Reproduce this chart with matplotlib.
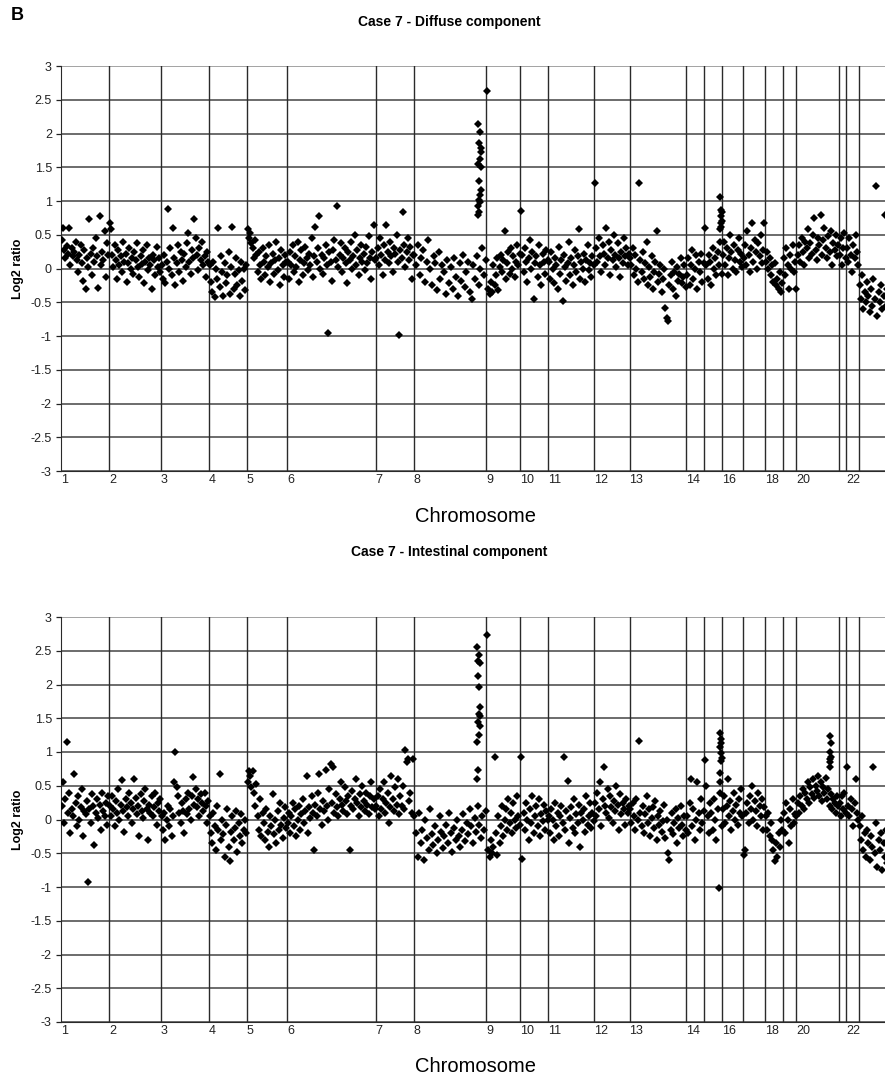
import numpy as np
import matplotlib
matplotlib.use('Agg')
import matplotlib.pyplot as plt
import matplotlib.transforms as mtransforms

plt.rcParams['font.family'] = ['Liberation Sans', 'DejaVu Sans']

# chromosome order and number of clones on the array for each one
chromosomes = ['1', '2', '3', '4', '5', '6', '7', '8', '9', '10', '11', '12',
               '13', '14', '15', '16', '17', '18', '19', '20', '21', '22', 'X']
n_clones = [120, 130, 120, 95, 100, 222, 95, 182, 85, 70, 115, 88,
            142, 45, 45, 52, 55, 45, 32, 108, 18, 32, 85]
# Excel only printed every other label after chromosome 14
tick_labels = ['1', '2', '3', '4', '5', '6', '7', '8', '9', '10', '11', '12',
               '13', '14', '', '16', '', '18', '', '20', '', '22', '']
y_ticks = [-3, -2.5, -2, -1.5, -1, -0.5, 0, 0.5, 1, 1.5, 2, 2.5, 3]

# log2 ratios, one row per chromosome
diffuse = [
    [.42, .60, .28, .15, .33, .22, .60, .05, .30, .18, .25, .40, .12, -.05, .20, .35, .08, -.18, .27, -.30,
     .15, .02, .73, .22, -.10, .30, .10, .45, .18, -.29, .78, .05, .24, .12, .55, -.12, .38, .20],
    [.67, .58, .20, .02, .35, .12, -.15, .28, .05, .18, -.05, .40, .10, .22, -.20, .08, .30, .00, .15, -.08,
     .25, .12, .38, .02, -.12, .18, .06, .28, -.22, .10, .35, -.02, .15, .05, -.30, .20, .12, -.10, .32, .02, .15, -.05],
    [.05, -.15, .20, -.22, .10, .88, .00, .30, -.10, .60, .15, -.25, .08, .35, -.05, .25, .12, -.18, .22, .02,
     .38, .53, .10, -.08, .28, .15, .73, .45, .20, -.02, .30, .12, .40, .05, .18, -.12, .25, .10],
    [.05, -.20, -.35, .10, -.42, .00, -.15, .60, -.28, .18, -.05, -.40, .08, -.22, -.10, .25, -.38, .02, .62, -.30,
     -.08, .15, -.25, -.02, -.40, .10, -.18, .00, -.32, .05],
    [.58, .45, .52, .38, .30, .15, .42, .20, -.05, .25, .05, -.15, .30, .10, -.10, .18, .02, .35, -.20, .08,
     .22, -.08, .12, .40, -.02, .15, -.25, .28, .05, -.12, .20, .10],
    [.10, -.15, .25, .05, .35, -.05, .18, .02, .40, -.20, .12, .28, -.10, .08, .32, .15, -.02, .22, .05, .45,
     -.12, .18, .62, .10, .30, .78, .00, .20, -.08, .15, .35, .05, -.95, .25, .10, -.18, .28, .42, .12, .92,
     .02, .20, .38, -.05, .15, .30, .08, -.22, .25, .12, .40, .00, .18, .50, .05, .28, -.10, .15, .35, .10,
     .22, -.02, .32, .08, .48, .15, -.15, .25, .65, .12],
    [.15, .30, .05, .45, .20, -.10, .35, .12, .65, .25, .08, .40, .18, -.05, .30, .22, .50, .10, -.98, .28,
     .15, .83, .35, .02, .25, .45, .12, .32, -.15, .20],
    [.20, .05, .35, -.10, .15, .28, -.20, .10, .42, .00, -.25, .18, .08, -.32, .25, -.15, .05, -.05, -.38, .12,
     -.22, .02, -.30, .15, -.12, -.40, .08, -.18, .20, -.28, -.05, .10, -.35, -.45, .05, -.15, .18, -.25, .00, .30,
     -.10, .12],
    [2.63, -.30, -.38, -.20, -.35, .05, -.25, -.10, .15, -.32, .02, .20, -.05, .12, .55, -.15, .08, .25, -.08, .30,
     .00, .18, -.12, .10, .35, .05, .22],
    [.85, .20, -.05, .30, .10, -.20, .15, .42, .00, .25, -.45, .08, .18, -.12, .35, .05, -.25, .22, .10, -.08,
     .28, .12],
    [.10, -.15, .25, .00, -.22, .15, .05, -.30, .32, -.08, .12, -.48, .20, .02, -.18, .08, .40, -.10, .15, -.25,
     .05, .28, -.05, .18, .58, -.15, .10, .00, .22, -.20, .12, .35, -.02, .08, -.12, .18, .05],
    [1.26, .30, .10, .45, .18, -.05, .35, .22, .05, .60, .15, .40, -.10, .28, .12, .50, .20, .02, .38, .15,
     -.12, .25, .08, .45, .18, .30, .05, .22],
    [.15, .05, .30, -.10, .20, .00, -.20, 1.27, .12, -.05, .25, -.15, .08, .40, -.25, .02, -.12, .18, -.30, -.05,
     .10, .55, -.20, -.08, .05, -.35, -.15, .00, -.58, -.73, -.78, -.25, -.10, .10, -.30, -.05, -.40, .02, -.18, -.08,
     .15, -.22, -.12, .05, -.28],
    [-.10, .15, -.25, .05, .28, -.15, .00, .20, -.30, .10, -.05, .22, -.20, .08],
    [.60, .05, -.15, .20, .10, -.25, .30, .00, .15, -.10, .25, .05, .40, -.08],
    [.20, .40, .05, .30, -.10, .15, .50, .25, .00, .35, .12, -.05, .28, .45, .10, .22, .02],
    [.15, .35, .05, .55, .20, -.05, .30, .67, .10, .42, .25, .00, .38, .18, .50, .08, .28, .68],
    [.10, .25, .00, .15, -.10, .05, -.20, .08, -.25, -.15, -.30, -.05, -.35, -.22],
    [.15, -.10, .30, .05, -.30, .20, .00, .35, -.05, .10],
    [-.30, .20, .35, .10, .45, .25, .05, .40, .30, .58, .15, .38, .22, .50, .75, .28, .12, .45, .35, .80,
     .20, .42, .60, .30, .15, .48, .25, .55, .05, .38, .28, .50, .18, .35],
    [.20, .45, .05, .30, .52, .15],
    [.30, .10, .45, .20, -.05, .35, .15, .50, .25, .05],
    [-.25, -.45, -.10, -.60, -.35, -.50, -.20, -.40, -.65, -.30, -.55, -.15, -.45, 1.22, -.70, -.35, -.50, -.25, -.60, -.40,
     .80, -.55, -.30, -.75, -.45, -.95, -.60],
]

# log2 ratios
intestinal = [
    [.20, .55, -.05, .30, 1.15, .10, .40, -.20, .15, .05, .67, .25, -.10, .35, .00, .18, .45, -.25, .12, .08,
     .28, -.92, .15, -.05, .38, .20, -.38, .10, .30, .02, .22, -.15, .40, .12, .05, .25, -.08, .35],
    [.20, .05, .35, .15, -.10, .28, .10, .45, .00, .22, .58, .12, -.18, .30, .18, .05, .40, .25, -.05, .15,
     .60, .32, .08, .20, -.25, .38, .12, .02, .28, .45, .15, -.30, .22, .10, .35, .05, .18, .40, -.08, .25, .12, .30],
    [.05, -.15, .10, -.30, .00, .20, -.10, .15, -.25, .05, .55, 1.00, .48, .35, .10, -.05, .25, .12, -.20, .30,
     .08, .40, .15, .00, .35, .63, .22, .45, .18, .30, .05, .38, .25, .12, .40, .20, -.05, .28],
    [.05, -.20, -.35, .10, -.10, -.45, .20, -.15, .67, -.30, .00, -.22, -.55, -.08, .15, -.40, -.62, -.18, .05, -.30,
     -.12, .12, -.48, -.05, -.25, .08, -.35, -.15, .00, -.20],
    [.55, .72, .65, .48, .72, .40, .20, .52, .05, -.15, .30, -.25, .10, -.05, -.30, .15, -.18, -.40, .05, -.10,
     .38, -.22, .00, -.35, .12, -.15, .25, -.08, -.28, .02, .18, -.12],
    [-.05, .10, -.20, .05, .25, -.10, .15, -.25, .00, .20, -.15, .08, .30, -.05, .12, .65, -.20, .18, .02, .35,
     .10, -.45, .22, .05, .40, .68, .15, -.08, .28, .12, .73, .20, .00, .45, .82, .25, .78, .10, .38, .18,
     .05, .30, .55, .22, .12, .48, .28, .08, .35, -.45, .20, .42, .15, .30, .60, .25, .05, .38, .18, .50,
     .28, .12, .40, .22, .08, .35, .55, .18, .30, .15],
    [.20, .35, .05, .45, .15, .30, .55, .10, .25, .40, -.05, .18, .65, .30, .12, .48, .22, .60, .08, .35,
     .20, .50, .15, 1.03, .85, .90, .28, .40, .10, .90],
    [.05, -.20, -.55, .10, -.35, -.15, -.60, .00, -.28, -.45, .15, -.22, -.38, -.10, -.50, -.30, .05, -.18, -.42, -.25,
     -.08, -.35, .10, -.20, -.48, -.12, -.30, .00, -.25, -.40, -.15, .08, -.32, -.05, -.22, .15, -.10, -.35, .02, -.18,
     .20, -.08, -.28, .05, -.15, .12],
    [2.74, -.45, -.55, -.30, -.50, -.40, .93, -.20, -.52, .05, -.35, -.10, .20, -.25, .00, .15, -.15, .30, -.05, .10,
     -.20, .25, .00, -.12, .35, .05, -.08],
    [.93, -.58, .10, -.15, .25, .00, -.30, .15, -.05, .35, -.20, .05, .20, -.10, .30, -.25, .08, -.02, .22, -.15,
     .12, .00],
    [.05, -.20, .15, .00, -.30, .25, -.10, .10, -.25, .05, .20, -.05, .93, -.15, .12, .57, -.35, .02, .18, -.12,
     .30, -.20, .08, -.05, .22, -.40, .10, .00, .15, -.18, .35, -.08, .05, .25, -.12, .10, -.02],
    [.25, .05, .40, .15, .55, -.10, .30, .78, .20, .10, .45, .02, .35, .18, -.05, .28, .12, .50, .22, -.15,
     .38, .08, .25, .15, -.08, .30, .10, .20],
    [.15, -.05, .25, .05, -.15, .30, .00, 1.17, .10, -.10, .20, -.20, .08, .35, -.05, .15, -.25, .02, .18, -.12,
     .28, -.30, .05, -.08, .12, -.18, -.02, .22, -.28, .00, -.50, -.60, -.15, .10, -.22, -.05, .15, -.35, .02, -.12,
     .20, -.08, -.25, .05, -.15],
    [.05, -.20, .25, .60, -.10, .15, -.30, .00, .55, .10, -.15, .30, -.05, .12],
    [.88, .50, .05, -.20, .25, .10, -.15, .30, .00, -.30, .15, -1.02, .40, -.10],
    [.15, .35, -.05, .20, .60, .05, .28, -.15, .12, .40, .00, .22, -.08, .30, .10, .45, .05],
    [-.52, -.45, .10, .25, -.05, .35, .15, .50, .00, .28, .12, -.10, .40, .20, .05, .30, -.15, .18],
    [.05, -.15, .10, -.25, -.05, -.30, -.45, -.62, -.35, -.55, -.20, -.40, .00, -.15],
    [.10, -.20, .25, .00, -.35, .15, -.10, .30, -.05, .08],
    [.05, .25, .10, .35, .20, .45, .15, .40, .30, .55, .25, .48, .38, .60, .32, .50, .42, .65, .35, .55,
     .28, .48, .40, .62, .30, .45, .20, .38, .15, .30, .25, .10, .35, .20],
    [.25, .05, .35, .15, .40, .10],
    [.78, .20, .05, .30, .15, -.10, .25, .60, .10, .00],
    [-.10, -.30, .05, -.45, -.20, -.55, -.15, -.35, -.60, -.25, -.40, .78, -.50, -.05, -.70, -.30, -.45, -.20, -.75, -.35,
     -.55, -.15, -.65, -.40, -.90, -.50, -.80],
]

# tightly packed clones at amplified loci: (chromosome, fraction along it, log2 ratios)
focal_diffuse = [
    ('8', 0.88, [.79, 2.14, .92, 1.55, 1.02, 1.86, .84, 1.30, 2.02, 1.09, 1.62, .98, 1.78, 1.17, 1.51, 1.73]),
    ('15', 0.88, [.58, 1.06, .68, .86, .61, .78, .71, .83]),
]
focal_intestinal = [
    ('8', 0.87, [.60, 2.56, 1.15, 2.13, .73, 1.44, 2.35, 1.25, 1.97, 1.56, 2.44, 1.38, 1.66, 2.32, 1.53]),
    ('15', 0.86, [.56, 1.28, .69, 1.08, .86, 1.20, .98, 1.13, .91]),
    ('20', 0.78, [.78, 1.23, .85, 1.00, .90, 1.14, .93]),
]

W, H = 885, 1077
fig = plt.figure(figsize=(W / 100, H / 100), dpi=100)

starts = np.concatenate([[0], np.cumsum(n_clones)[:-1]])
total = sum(n_clones)


def draw_panel(top, values, focal):
    # axes placed in pixel units, right edge runs past the figure like the original
    left, right, bottom = 61, 893, top + 405
    ax = fig.add_axes([left / W, 1 - bottom / H, (right - left) / W, (bottom - top) / H])

    for k, vals in enumerate(values):
        n = len(vals)
        x = starts[k] + (np.arange(n) + 0.5) * n_clones[k] / n
        ax.plot(x, vals, 'D', ms=3.7, mew=0, color='black', zorder=3)
    for chrom, frac, vals in focal:
        k = chromosomes.index(chrom)
        x = starts[k] + frac * n_clones[k] + np.arange(len(vals)) * 0.6
        ax.plot(x, vals, 'D', ms=3.7, mew=0, color='black', zorder=3)

    ax.set_xlim(0, total)
    ax.set_ylim(-3, 3)

    for y in y_ticks:
        c = '#8a8a8a' if y == 3 else '#444444'
        ax.axhline(y, color=c, lw=1.1, zorder=1)
    for s in starts[1:]:
        ax.axvline(s, color='#2a2a2a', lw=1.0, zorder=1)

    ax.set_yticks(y_ticks)
    ax.set_yticklabels(['{:g}'.format(v) for v in y_ticks])
    ax.tick_params(axis='y', length=3.6, width=0.9, direction='out', pad=3,
                   labelsize=9, colors='#222222')

    ax.set_xticks(starts)
    ax.set_xticklabels(tick_labels)
    shift = mtransforms.ScaledTranslation(3 / 100, 0, fig.dpi_scale_trans)
    for lab in ax.get_xticklabels():
        lab.set_horizontalalignment('left')
        lab.set_transform(lab.get_transform() + shift)
    ax.tick_params(axis='x', length=0, pad=2, labelsize=9, labelcolor='#222222')

    for side in ['top', 'right']:
        ax.spines[side].set_visible(False)
    ax.spines['left'].set_color('#2a2a2a')
    ax.spines['bottom'].set_color('#2a2a2a')

    fig.text(18 / W, 1 - (top + 202.5) / H, 'Log2 ratio', rotation=90, ha='center', va='center',
             fontsize=9, fontweight='bold')
    return ax


draw_panel(66, diffuse, focal_diffuse)
draw_panel(617, intestinal, focal_intestinal)

fig.text(17 / W, 1 - 16 / H, 'B', ha='center', va='center', fontsize=13, fontweight='bold')
fig.text(449 / W, 1 - 22 / H, 'Case 7 - Diffuse component', ha='center', va='center',
         fontsize=10, fontweight='bold')
fig.text(449 / W, 1 - 552 / H, 'Case 7 - Intestinal component', ha='center', va='center',
         fontsize=10, fontweight='bold')
fig.text(476 / W, 1 - 516 / H, 'Chromosome', ha='center', va='center', fontsize=14.5)
fig.text(476 / W, 1 - 1066 / H, 'Chromosome', ha='center', va='center', fontsize=14.5)

fig.savefig('out.png', dpi=100)
